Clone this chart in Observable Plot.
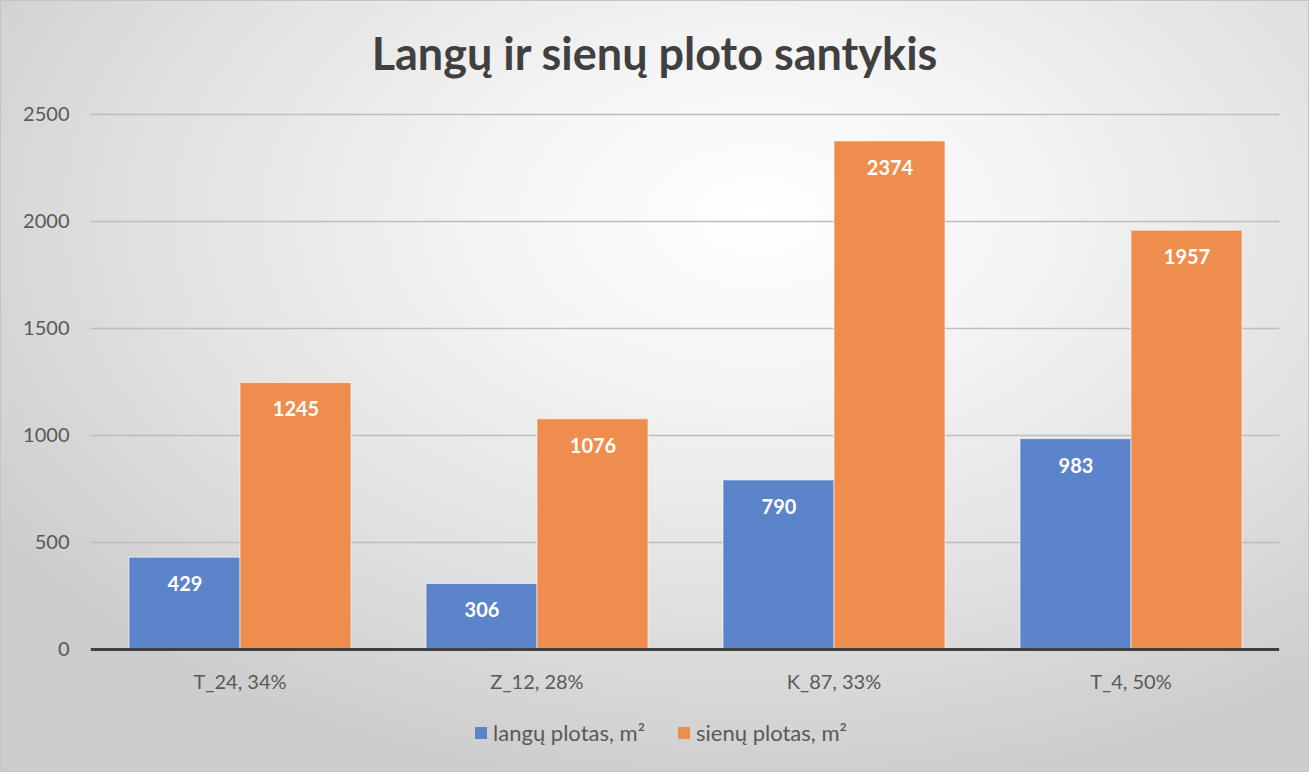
<!DOCTYPE html>
<html>
<head>
<meta charset="utf-8">
<script src="https://cdn.jsdelivr.net/npm/d3@7"></script>
<script src="https://cdn.jsdelivr.net/npm/@observablehq/plot@0.6"></script>
<style>
  html, body { margin: 0; padding: 0; }
  body { width: 1309px; height: 772px; overflow: hidden; font-family: Lato, "Open Sans", sans-serif; }
  #frame {
    position: absolute; left: 0; top: 0; width: 1307px; height: 770px;
    border: 1px solid #c4c4c4;
    background: radial-gradient(ellipse 70% 75% at 58% 28%, #ffffff 0%, #f4f4f4 30%, #e2e2e2 65%, #cdcdcd 100%);
  }
  #title {
    position: absolute; left: 0; width: 1309px; top: 27px; text-align: center;
    font-size: 45px; font-weight: bold; color: #404040; line-height: 52px;
  }
  #chart { position: absolute; left: 0; top: 90px; }
  #legend {
    position: absolute; top: 718px; left: 0; width: 1322px; display: flex; justify-content: center; gap: 33px;
    font-size: 22px; color: #595959; line-height: 30px;
  }
  .item { display: flex; align-items: center; gap: 6px; }
  .sw { width: 12px; height: 12px; }
</style>
</head>
<body>
<div id="frame"></div>
<div id="title">Langų ir sienų ploto santykis</div>
<div id="chart"></div>
<div id="legend"></div>
<script>
const categories = ["T_24, 34%", "Z_12, 28%", "K_87, 33%", "T_4, 50%"];
const series = ["langų plotas, m²", "sienų plotas, m²"];
const windowArea = [429, 306, 790, 983];
const wallArea = [1245, 1076, 2374, 1957];
const yTicks = [0, 500, 1000, 1500, 2000, 2500];
const colors = ["#5b84ca", "#ee8d4d"];

const data = categories.flatMap((c, i) => [
  {cat: c, series: series[0], value: windowArea[i]},
  {cat: c, series: series[1], value: wallArea[i]}
]);

// width of plot area and the outer band padding, used to let grid lines run through the gaps between groups
const plotW = 1309 - 90 - 29;
const gapHalf = plotW / 4 * 0.125;

const chart = Plot.plot({
  width: 1309, height: 620,
  marginLeft: 90, marginRight: 29, marginTop: 24, marginBottom: 61,
  style: {background: "transparent", fontFamily: "Lato, 'Open Sans', sans-serif", fontSize: "20px", color: "#595959"},
  fx: {domain: categories, paddingInner: 0.25, paddingOuter: 0.125, label: null, tickSize: 0, tickPadding: 25, axis: "bottom"},
  x: {domain: series, padding: 0, axis: null},
  y: {domain: [0, 2500], ticks: yTicks, tickFormat: d => String(d), tickSize: 0, tickPadding: 59, label: null},
  color: {domain: series, range: colors},
  marks: [
    Plot.ruleY(yTicks.slice(1), {stroke: "#bdbdbd", strokeWidth: 1.3, insetLeft: -gapHalf, insetRight: -gapHalf}),
    Plot.barY(data, {fx: "cat", x: "series", y: "value", fill: "series", stroke: "#ffffff", strokeOpacity: 0.6}),
    Plot.text(data, {fx: "cat", x: "series", y: "value", text: d => String(d.value), dy: 27, fill: "white", fontWeight: "bold", fontSize: 20}),
    Plot.ruleY([0], {stroke: "#404040", strokeWidth: 3, insetLeft: -gapHalf, insetRight: -gapHalf})
  ]
});
document.getElementById("chart").appendChild(chart);

const legend = document.getElementById("legend");
series.forEach((s, i) => {
  const item = document.createElement("div");
  item.className = "item";
  const sw = document.createElement("div");
  sw.className = "sw";
  sw.style.background = colors[i];
  const label = document.createElement("span");
  label.textContent = s;
  item.appendChild(sw);
  item.appendChild(label);
  legend.appendChild(item);
});
</script>
</body>
</html>
